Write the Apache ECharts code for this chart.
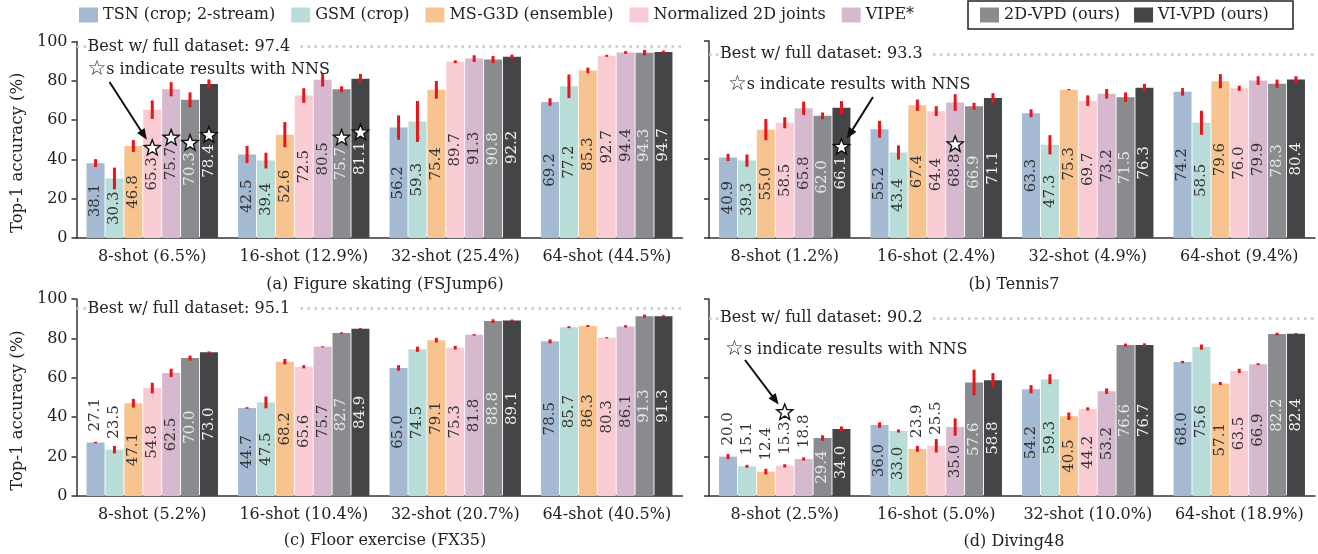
<!DOCTYPE html>
<html><head><meta charset="utf-8">
<script src="https://cdn.jsdelivr.net/npm/echarts@6/dist/echarts.min.js"></script>
<style>html,body{margin:0;padding:0;background:#fff}#c{width:1318px;height:554px}</style>
</head><body><div id="c"></div>
<script>
// ---------- DATA ----------
const seriesNames = ['TSN (crop; 2-stream)', 'GSM (crop)', 'MS-G3D (ensemble)', 'Normalized 2D joints', 'VIPE*', '2D-VPD (ours)', 'VI-VPD (ours)'];

const fsCats = ['8-shot (6.5%)', '16-shot (12.9%)', '32-shot (25.4%)', '64-shot (44.5%)'];
const tnCats = ['8-shot (1.2%)', '16-shot (2.4%)', '32-shot (4.9%)', '64-shot (9.4%)'];
const fxCats = ['8-shot (5.2%)', '16-shot (10.4%)', '32-shot (20.7%)', '64-shot (40.5%)'];
const dvCats = ['8-shot (2.5%)', '16-shot (5.0%)', '32-shot (10.0%)', '64-shot (18.9%)'];

// rows follow seriesNames, columns follow categories
const fsValues = [
  [38.1, 42.5, 56.2, 69.2],
  [30.3, 39.4, 59.3, 77.2],
  [46.8, 52.6, 75.4, 85.3],
  [65.3, 72.5, 89.7, 92.7],
  [75.7, 80.5, 91.3, 94.4],
  [70.3, 75.7, 90.8, 94.3],
  [78.4, 81.1, 92.2, 94.7]
];
const fsErrors = [
  [2.0, 4.3, 6.2, 1.9],
  [5.5, 4.0, 10.4, 6.0],
  [3.0, 6.4, 4.5, 1.4],
  [4.7, 3.7, 0.7, 0.5],
  [3.6, 3.4, 1.7, 0.7],
  [3.8, 1.5, 1.8, 1.4],
  [2.3, 2.4, 1.1, 0.7]
];
const tnValues = [
  [40.9, 55.2, 63.3, 74.2],
  [39.3, 43.4, 47.3, 58.5],
  [55.0, 67.4, 75.3, 79.6],
  [58.5, 64.4, 69.7, 76.0],
  [65.8, 68.8, 73.2, 79.9],
  [62.0, 66.9, 71.5, 78.3],
  [66.1, 71.1, 76.3, 80.4]
];
const tnErrors = [
  [1.8, 4.3, 2.0, 1.9],
  [3.1, 3.6, 4.9, 6.1],
  [5.4, 2.9, 0.3, 3.6],
  [2.8, 2.5, 2.7, 1.3],
  [3.4, 4.2, 2.4, 2.2],
  [1.7, 1.7, 2.4, 2.1],
  [3.4, 2.4, 1.9, 1.7]
];
const fxValues = [
  [27.1, 44.7, 65.0, 78.5],
  [23.5, 47.5, 74.5, 85.7],
  [47.1, 68.2, 79.1, 86.3],
  [54.8, 65.6, 75.3, 80.3],
  [62.5, 75.7, 81.8, 86.1],
  [70.0, 82.7, 88.8, 91.3],
  [73.0, 84.9, 89.1, 91.3]
];
const fxErrors = [
  [0.4, 0.4, 1.4, 1.0],
  [1.9, 3.0, 1.3, 0.5],
  [2.2, 1.4, 1.2, 0.5],
  [2.7, 0.8, 0.9, 0.3],
  [2.1, 0.3, 0.4, 0.6],
  [1.3, 0.4, 0.9, 0.8],
  [0.4, 0.3, 0.5, 0.5]
];
const dvValues = [
  [20.0, 36.0, 54.2, 68.0],
  [15.1, 33.0, 59.3, 75.6],
  [12.4, 23.9, 40.5, 57.1],
  [15.3, 25.5, 44.2, 63.5],
  [18.8, 35.0, 53.2, 66.9],
  [29.4, 57.6, 76.6, 82.2],
  [34.0, 58.8, 76.7, 82.4]
];
const dvErrors = [
  [1.3, 1.4, 2.1, 0.6],
  [0.7, 0.8, 2.5, 1.3],
  [1.4, 1.5, 1.9, 0.8],
  [0.8, 3.4, 0.8, 1.1],
  [0.8, 4.4, 1.4, 0.5],
  [1.4, 6.5, 0.8, 0.7],
  [1.3, 3.6, 0.8, 0.3]
];
const bestValues = [97.4, 93.3, 95.1, 90.2];
// [category index, series index] of results with NNS
const fsStars = [[0, 3], [0, 4], [0, 5], [0, 6], [1, 5], [1, 6]];
const tnStars = [[0, 6], [1, 4]];
const fxStars = [];
const dvStars = [[0, 3]];
const panelCaptions = ['(a) Figure skating (FSJump6)', '(b) Tennis7', '(c) Floor exercise (FX35)', '(d) Diving48'];
const yTitle = 'Top-1 accuracy (%)';
const bestText = 'Best w/ full dataset: ';
const nnsStar = '\u2606';
const nnsText = 's indicate results with NNS';

// ---------- STYLE ----------
const FONT = '"DejaVu Serif", serif';
const colors = ['#a4b9d2', '#b8dcd8', '#f7c490', '#f9cbd3', '#d6b9cf', '#8a8b8e', '#444547'];
const insideLabelColors = ['#333', '#333', '#333', '#333', '#333', '#e8e8e8', '#f2f2f2'];
const AXIS = '#333';
const BW = 18, BG = 0.05;           // bar width px, bar gap ratio
const LABEL_SIZE = 15, LABEL_HALF = 16.7, TOP_DIST = 11, STAR_GAP = 9;
const ABOVE_LIMIT = 28;

const panels = [
  {cats: fsCats, values: fsValues, errors: fsErrors, stars: fsStars, grid: {left: 76.5, top: 41.5, width: 606, height: 196.5}, yLabels: true},
  {cats: tnCats, values: tnValues, errors: tnErrors, stars: tnStars, grid: {left: 709, top: 41, width: 606, height: 197}, yLabels: false},
  {cats: fxCats, values: fxValues, errors: fxErrors, stars: fxStars, grid: {left: 76.5, top: 299, width: 606, height: 197}, yLabels: true},
  {cats: dvCats, values: dvValues, errors: dvErrors, stars: dvStars, grid: {left: 709, top: 299, width: 606, height: 197}, yLabels: false}
];

function barCenterX(api, ci, si) {
  const c = api.coord([ci, 0])[0];
  const total = 7 * BW + 6 * BW * BG;
  return c - total / 2 + si * BW * (1 + BG) + BW / 2;
}

function errRender(params, api) {
  const ci = api.value(0), si = api.value(1), v = api.value(2), e = Math.max(api.value(3), 0.3);
  const x = barCenterX(api, ci, si);
  const y1 = api.coord([ci, v + e])[1], y2 = api.coord([ci, v - e])[1];
  return {type: 'line', shape: {x1: x, y1: y1, x2: x, y2: y2}, style: {stroke: '#e8141c', lineWidth: 3}};
}

function starPoints(cx, cy, R, r) {
  const pts = [];
  for (let k = 0; k < 10; k++) {
    const a = -Math.PI / 2 + k * Math.PI / 5;
    const rad = k % 2 === 0 ? R : r;
    pts.push([cx + rad * Math.cos(a), cy + rad * Math.sin(a)]);
  }
  return pts;
}
function starCenterY(v, coordFn) {
  if (v >= ABOVE_LIMIT) return coordFn(v / 2) - LABEL_HALF - STAR_GAP;
  return coordFn(v) - TOP_DIST - 2 * LABEL_HALF - STAR_GAP;
}
function starRender(params, api) {
  const ci = api.value(0), si = api.value(1), v = api.value(2);
  const x = barCenterX(api, ci, si);
  const y = starCenterY(v, function (val) { return api.coord([ci, val])[1]; });
  return {type: 'polygon', shape: {points: starPoints(x, y, 8.5, 3.6)}, style: {fill: '#fff', stroke: '#111', lineWidth: 1.4}};
}

const option = {
  animation: false,
  backgroundColor: '#fff',
  textStyle: {fontFamily: FONT},
  legend: [
    {data: seriesNames.slice(0, 5), left: 79, top: 7, itemWidth: 19, itemHeight: 15, itemGap: 16, padding: 0, selectedMode: false, icon: 'rect',
      textStyle: {fontFamily: FONT, fontSize: 16, color: '#222'}},
    {data: seriesNames.slice(5), left: 980, top: 7, itemWidth: 19, itemHeight: 15, itemGap: 14, padding: 0, selectedMode: false, icon: 'rect',
      textStyle: {fontFamily: FONT, fontSize: 16, color: '#222'}}
  ],
  grid: panels.map(p => p.grid),
  xAxis: panels.map((p, i) => ({
    type: 'category', gridIndex: i, data: p.cats,
    axisLine: {lineStyle: {color: AXIS, width: 1.5}},
    axisTick: {alignWithLabel: true, length: 5, lineStyle: {color: AXIS, width: 1.5}},
    axisLabel: {margin: 11, fontSize: 16, fontFamily: FONT, color: '#222', interval: 0}
  })),
  yAxis: panels.map((p, i) => ({
    type: 'value', gridIndex: i, min: 0, max: 100, interval: 20,
    splitLine: {show: false},
    axisLine: {show: true, lineStyle: {color: AXIS, width: 1.5}},
    axisTick: {show: true, length: 5, lineStyle: {color: AXIS, width: 1.5}},
    axisLabel: {show: p.yLabels, margin: 9, fontSize: 16, fontFamily: FONT, color: '#222'}
  })),
  series: []
};

panels.forEach((p, g) => {
  for (let si = 0; si < 7; si++) {
    const s = {
      type: 'bar', name: seriesNames[si], xAxisIndex: g, yAxisIndex: g,
      barWidth: BW, barGap: (BG * 100) + '%',
      itemStyle: {color: colors[si]},
      label: {show: true, rotate: 90, fontSize: LABEL_SIZE, fontFamily: FONT, formatter: d => d.value.toFixed(1)},
      data: p.values[si].map(v => v >= ABOVE_LIMIT
        ? {value: v, label: {position: 'inside', color: insideLabelColors[si], align: 'center', verticalAlign: 'middle'}}
        : {value: v, label: {position: 'top', distance: TOP_DIST, color: '#333', align: 'left', verticalAlign: 'middle'}})
    };
    if (si === 0) {
      s.markLine = {
        silent: true, symbol: 'none', label: {show: false},
        lineStyle: {color: '#c8c8c8', type: [2.5, 4.5], width: 2.5},
        data: [{yAxis: bestValues[g]}]
      };
    }
    option.series.push(s);
  }
  const errData = [];
  for (let si = 0; si < 7; si++) for (let ci = 0; ci < 4; ci++) errData.push([ci, si, p.values[si][ci], p.errors[si][ci]]);
  option.series.push({type: 'custom', xAxisIndex: g, yAxisIndex: g, renderItem: errRender, data: errData, encode: {x: 0, y: 2}, z: 5, silent: true});
  if (p.stars.length) {
    option.series.push({type: 'custom', xAxisIndex: g, yAxisIndex: g, renderItem: starRender,
      data: p.stars.map(([ci, si]) => [ci, si, p.values[si][ci]]), encode: {x: 0, y: 2}, z: 6, silent: true});
  }
});

const chart = echarts.init(document.getElementById('c'), null, {renderer: 'canvas'});
chart.setOption(option);

// ---------- annotations (layout) ----------
function px(g, x, y) { return chart.convertToPixel({gridIndex: g}, [x, y]); }
function starPixel(g, ci, si) {
  const v = panels[g].values[si][ci];
  const c = px(g, ci, 0)[0];
  const total = 7 * BW + 6 * BW * BG;
  const x = c - total / 2 + si * BW * (1 + BG) + BW / 2;
  const y = starCenterY(v, val => px(g, ci, val)[1]);
  return [x, y];
}
const txt = (x, y, text, extra) => Object.assign({type: 'text', x: x, y: y, z: 100,
  style: Object.assign({text: text, fontFamily: FONT, fontSize: 16, fill: '#222', align: 'left', verticalAlign: 'middle'}, extra || {})});

const gfx = [];
// y axis titles
[0, 2].forEach(g => {
  const gr = panels[g].grid;
  gfx.push({type: 'text', x: 18, y: gr.top + gr.height / 2 + 13, rotation: Math.PI / 2, z: 100,
    style: {text: yTitle, fontFamily: FONT, fontSize: 16.5, fill: '#222', align: 'center', verticalAlign: 'middle'}});
});
// captions
const capPos = [[385, 285], [1014, 285], [385, 541], [1014, 542]];
panelCaptions.forEach((c, i) => gfx.push(txt(capPos[i][0], capPos[i][1], c, {align: 'center'})));
// best-with-full-dataset labels (cover the start of the dotted line)
panels.forEach((p, g) => {
  const y = px(g, 0, bestValues[g])[1];
  gfx.push(txt(p.grid.left + 11, y, bestText + bestValues[g].toFixed(1), {backgroundColor: '#fff', padding: [0, 7, 0, 0]}));
});
// NNS notes with arrows
const notes = [
  {g: 0, dx: 11, dy: 28.5, sx: 22, sy: 12, star: [0, 3]},
  {g: 1, dx: 19, dy: 44, sx: 145, sy: 12, star: [0, 6]},
  {g: 3, dx: 16, dy: 51, sx: 20, sy: 10, star: [0, 3]}
];
notes.forEach(n => {
  const gr = panels[n.g].grid;
  const tx = gr.left + n.dx, ty = gr.top + n.dy;
  gfx.push(txt(tx, ty, '{s|' + nnsStar + '}' + nnsText, {
    rich: {s: {fontFamily: '"DejaVu Sans", sans-serif', fontSize: 21, fill: '#222', verticalAlign: 'middle'}}
  }));
  const sx = tx + n.sx, sy = ty + n.sy;
  const sp = starPixel(n.g, n.star[0], n.star[1]);
  const dx = sp[0] - sx, dy = sp[1] - sy, L = Math.hypot(dx, dy), ux = dx / L, uy = dy / L;
  const tipX = sp[0] - ux * 10, tipY = sp[1] - uy * 10;
  const HL = 11, HW = 4.5;
  const bx = tipX - ux * HL, by = tipY - uy * HL;
  gfx.push({type: 'line', z: 100, shape: {x1: sx, y1: sy, x2: bx + ux * 2, y2: by + uy * 2}, style: {stroke: '#111', lineWidth: 2}});
  gfx.push({type: 'polygon', z: 100, shape: {points: [[tipX, tipY], [bx - uy * HW, by + ux * HW], [bx + uy * HW, by - ux * HW]]}, style: {fill: '#111'}});
});
// legend frame around "ours"
gfx.push({type: 'rect', z: 100, shape: {x: 968, y: 1, width: 325, height: 28}, style: {fill: 'none', stroke: '#222', lineWidth: 1.5}});
chart.setOption({graphic: gfx});
</script>
</body></html>
